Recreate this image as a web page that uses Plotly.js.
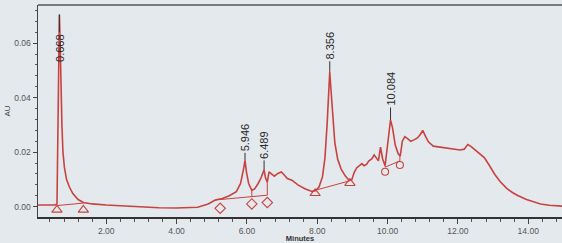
<!DOCTYPE html>
<html><head><meta charset="utf-8">
<script src="https://cdn.plot.ly/plotly-3.0.1.min.js"></script>
<style>html,body{margin:0;padding:0;background:#e4e9ee;}#chart{width:562px;height:243px;}</style>
</head><body><div id="chart"></div>
<script>
// Chromatogram trace (minutes, AU)
const minutes = [0.06,0.30,0.55,0.60,0.63,0.65,0.668,0.69,0.71,0.74,0.77,0.81,0.87,0.95,1.05,1.20,1.35,1.60,2.00,2.50,3.00,3.50,4.00,4.30,4.60,4.90,5.10,5.30,5.50,5.70,5.82,5.90,5.946,5.99,6.05,6.14,6.22,6.32,6.40,6.489,6.53,6.58,6.63,6.70,6.78,6.88,6.98,7.05,7.15,7.28,7.45,7.65,7.85,7.95,8.05,8.15,8.22,8.28,8.32,8.356,8.39,8.44,8.50,8.58,8.68,8.80,8.90,8.98,9.05,9.12,9.20,9.27,9.33,9.40,9.47,9.55,9.62,9.68,9.74,9.80,9.86,9.93,10.00,10.084,10.14,10.22,10.30,10.36,10.42,10.49,10.57,10.66,10.75,10.85,10.93,11.00,11.08,11.16,11.30,11.50,11.70,11.90,12.06,12.18,12.28,12.36,12.45,12.60,12.75,12.90,13.05,13.20,13.38,13.55,13.70,13.95,14.15,14.35,14.60,14.96];
const au = [0.0006,0.0006,0.0006,0.0010,0.0300,0.0600,0.0705,0.0600,0.0450,0.0300,0.0200,0.0145,0.0100,0.0073,0.0048,0.0026,0.0015,0.0010,0.0006,0.0002,-0.0002,-0.0004,-0.0005,-0.0004,-0.0002,0.0010,0.0024,0.0030,0.0040,0.0055,0.0085,0.0135,0.0170,0.0125,0.0085,0.0060,0.0065,0.0085,0.0105,0.0135,0.0105,0.0090,0.0128,0.0120,0.0112,0.0122,0.0127,0.0118,0.0103,0.0097,0.0080,0.0066,0.0056,0.0058,0.0072,0.0110,0.0180,0.0300,0.0420,0.0495,0.0430,0.0330,0.0235,0.0175,0.0138,0.0112,0.0098,0.0098,0.0125,0.0142,0.0150,0.0158,0.0150,0.0155,0.0168,0.0175,0.0190,0.0178,0.0168,0.0218,0.0175,0.0150,0.0230,0.0318,0.0290,0.0225,0.0195,0.0185,0.0240,0.0257,0.0250,0.0240,0.0245,0.0252,0.0265,0.0280,0.0258,0.0238,0.0222,0.0218,0.0215,0.0211,0.0208,0.0211,0.0228,0.0222,0.0213,0.0198,0.0180,0.0150,0.0118,0.0092,0.0068,0.0052,0.0041,0.0026,0.0017,0.0010,0.0005,0.0002];

// Peak labels
const peakTimes = [0.668,5.946,6.489,8.356,10.084];
const peakAU = [0.0705,0.0170,0.0135,0.0495,0.0318];

// Integration baselines
const base1Min = [0.60,1.35], base1AU = [0.0004,0.0013];
const base2Min = [5.24,6.14,6.58], base2AU = [0.0026,0.0037,0.0042];
const base3Min = [7.94,8.93], base3AU = [0.0060,0.0095];
const base4Min = [9.93,10.35], base4AU = [0.0145,0.0168];
// Drop lines (time, top AU, bottom AU)
const dropMin = [6.14,6.58,9.93,10.35];
const dropTop = [0.0060,0.0090,0.0150,0.0185];
const dropBottom = [0.0037,0.0042,0.0145,0.0168];
// Peak start/end markers
const triMin = [0.60,1.35,7.94,8.93], triAU = [-0.0012,-0.0012,0.0049,0.0086];
const diaMin = [5.24,6.14,6.58], diaAU = [-0.0006,0.0010,0.0015];
const cirMin = [9.93,10.35], cirAU = [0.0128,0.0153];

const RED = '#c8423f';
const traces = [];
[[base1Min,base1AU],[base2Min,base2AU],[base3Min,base3AU],[base4Min,base4AU]].forEach(b=>{
  traces.push({x:b[0],y:b[1],mode:'lines',line:{color:RED,width:1},hoverinfo:'skip'});
});
const dx=[],dy=[];
dropMin.forEach((t,i)=>{dx.push(t,t,null);dy.push(dropTop[i],dropBottom[i],null);});
traces.push({x:dx,y:dy,mode:'lines',line:{color:RED,width:1},connectgaps:false});
traces.push({x:minutes,y:au,mode:'lines',line:{color:RED,width:1.6}});
traces.push({x:triMin,y:triAU,mode:'markers',marker:{symbol:'triangle-up-open',size:9,color:RED,line:{width:1.1,color:RED}}});
traces.push({x:diaMin,y:diaAU,mode:'markers',marker:{symbol:'diamond-open',size:8,color:RED,line:{width:1.1,color:RED}}});
traces.push({x:cirMin,y:cirAU,mode:'markers',marker:{symbol:'circle-open',size:7,color:RED,line:{width:1.1,color:RED}}});

const labelOffset = [33,-23,-25,-26,-31];
const annotations = peakTimes.map((t,i)=>({
  x:t, y:peakAU[i], xref:'x', yref:'y', text:t.toFixed(3), textangle:-90,
  showarrow:true, arrowhead:0, arrowwidth:1, arrowcolor:'#333', ax:0, ay:labelOffset[i], standoff:0,
  font:{size:11,color:'#2a2a2a',family:'Liberation Sans, Arial, sans-serif'}
}));

const layout = {
  width:562, height:243,
  margin:{l:38,r:0,t:5,b:26},
  paper_bgcolor:'#e4e9ee', plot_bgcolor:'#e4e9ee',
  showlegend:false,
  font:{family:'Liberation Sans, Arial, sans-serif',color:'#3a3a3a'},
  xaxis:{range:[0.06,14.96],tick0:0,dtick:2,tickformat:'.2f',ticks:'outside',ticklen:5,tickwidth:1,tickcolor:'#444',
    showline:true,linecolor:'#333',linewidth:2,showgrid:false,zeroline:false,
    tickfont:{size:8.5,color:'#555'},
    minor:{dtick:0.4,tick0:0,ticks:'outside',ticklen:3,tickcolor:'#555',showgrid:false},
    title:{text:'Minutes',font:{size:7.5,color:'#333',weight:'bold'},standoff:3}},
  yaxis:{range:[-0.0038,0.0740],tick0:0,dtick:0.02,tickformat:'.2f',ticks:'outside',ticklen:4,tickwidth:1,tickcolor:'#444',
    showline:true,linecolor:'#444',linewidth:1.5,showgrid:false,zeroline:false,
    tickfont:{size:8.5,color:'#555'},
    minor:{dtick:0.004,tick0:0,ticks:'outside',ticklen:2,tickcolor:'#555',showgrid:false},
    title:{text:'AU',font:{size:8,color:'#444'},standoff:2}},
  shapes:[{type:'line',xref:'paper',yref:'paper',x0:0,x1:1,y0:1,y1:1,line:{color:'#555',width:1.5}}],
  annotations:annotations
};
Plotly.newPlot('chart',traces,layout,{staticPlot:true,displayModeBar:false});
</script></body></html>
